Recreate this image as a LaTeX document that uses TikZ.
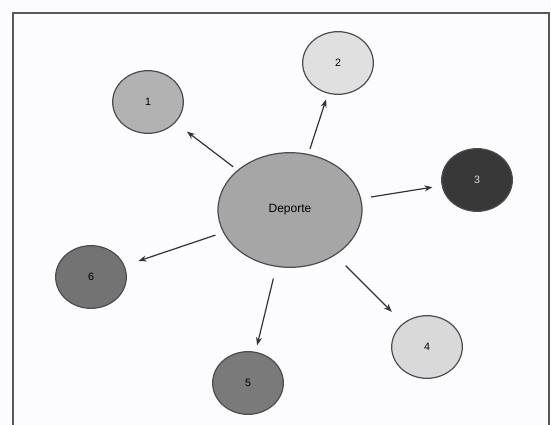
\documentclass[tikz,border=0pt]{standalone}
\usepackage{fontspec}
\setmainfont{Liberation Sans}
\usetikzlibrary{arrows.meta}
\usetikzlibrary{shapes.geometric}

\begin{document}
\begin{tikzpicture}[
    x=0.75pt, y=-0.75pt,
    object/.style={ellipse, draw=black!70, line width=0.9pt, inner sep=0, font=\footnotesize},
    topic/.style={object, fill=black!35, minimum width=108pt, minimum height=86pt,
      font=\fontsize{9}{10}\selectfont},
    sub/.style={object, minimum width=53pt, minimum height=47pt},
    arrow/.style={line width=0.9pt, draw=black!80, >={Stealth[length=6pt, width=4.5pt]}},
    pre/.style={arrow, <-},
    post/.style={arrow, ->}
  ]
  \fill[black!3!blue!1!white] (0,0) rectangle (551,425);
  \useasboundingbox (0,0) rectangle (551,425);
  \draw[black!65, line width=1.5pt] (13,440) -- (13,13) -- (549,13) -- (549,440);

  \node[topic] (dep) at (290,210) {Deporte};
  \node[sub, fill=black!30] (n1) at (148,102) {1}
    edge [pre, shorten <=11pt, shorten >=4pt] (dep);
  \node[sub, fill=black!12] (n2) at (338,63) {2}
    edge [pre, shorten <=4.5pt, shorten >=4pt] (dep);
  \node[sub, fill=black!78, text=black!15] (n3) at (477,180) {3}
    edge [pre, shorten <=7pt, shorten >=7.5pt] (dep);
  \node[sub, fill=black!15] (n4) at (427,347) {4}
    edge [pre, shorten <=12pt, shorten >=11pt] (dep);
  \node[sub, fill=black!52] (n5) at (248,383) {5}
    edge [pre, shorten <=5pt, shorten >=9pt] (dep);
  \node[sub, fill=black!55] (n6) at (91,277) {6}
    edge [pre, shorten <=11pt, shorten >=6pt] (dep);
\end{tikzpicture}
\end{document}
